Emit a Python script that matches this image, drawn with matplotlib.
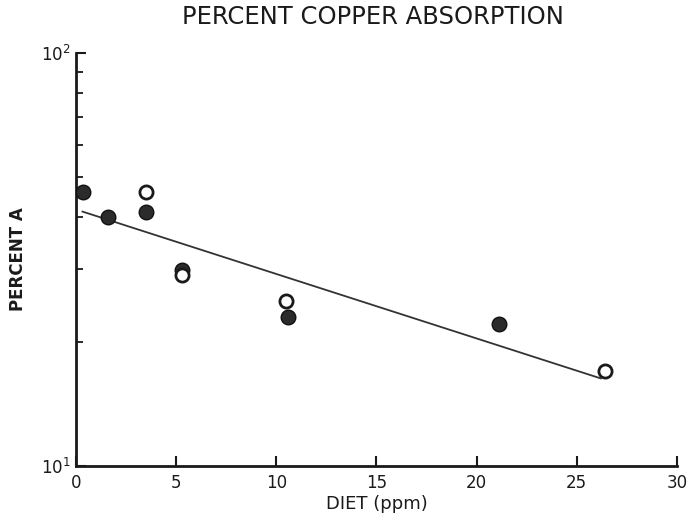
import numpy as np
import matplotlib.pyplot as plt
from matplotlib.ticker import LogLocator, NullFormatter, FixedLocator

# filled circles
filled_x = [0.35, 1.6, 3.5, 5.3, 10.6, 21.1]
filled_y = [46.1, 40.1, 41.2, 29.8, 23.0, 22.1]

# open circles
open_x = [3.5, 5.3, 10.5, 26.4]
open_y = [46.1, 29.0, 25.1, 17.0]

# regression line end points
line_x = [0.33, 26.2]
line_y = [41.3, 16.3]

x_ticks = [0, 5, 10, 15, 20, 25, 30]

fig = plt.figure(figsize=(6.9, 5.19), dpi=100)
ax = fig.add_axes([0.110, 0.102, 0.871, 0.796])

ink = "#1a1a1a"

ax.plot(line_x, line_y, color="#333333", linewidth=1.3, zorder=2)
ax.scatter(filled_x, filled_y, s=110, color="#2b2b2b", edgecolor="#111111",
           linewidth=1.0, zorder=3)
ax.scatter(open_x, open_y, s=90, facecolor="white", edgecolor=ink,
           linewidth=2.0, zorder=4)

ax.set_yscale("log")
ax.set_xlim(0, 30)
ax.set_ylim(10, 100)

ax.xaxis.set_major_locator(FixedLocator(x_ticks))
ax.yaxis.set_major_locator(FixedLocator([10, 100]))
ax.yaxis.set_minor_locator(LogLocator(base=10, subs=np.arange(2, 10)))
ax.yaxis.set_minor_formatter(NullFormatter())
ax.set_yticklabels([r"10$^{1}$", r"10$^{2}$"])

ax.tick_params(axis="both", which="major", direction="in", length=7, width=1.5,
               color=ink, labelsize=12, labelcolor=ink)
ax.tick_params(axis="y", which="minor", direction="in", length=5, width=1.3,
               color=ink)
ax.tick_params(axis="x", which="major", pad=6)

for side in ["top", "right"]:
    ax.spines[side].set_visible(False)
for side in ["left", "bottom"]:
    ax.spines[side].set_linewidth(2.0)
    ax.spines[side].set_color(ink)

ax.set_xlabel("DIET (ppm)", fontsize=13, color=ink, labelpad=2)
ax.set_ylabel("PERCENT A", fontsize=12, color=ink, fontweight="bold")
ax.yaxis.set_label_coords(-0.081, 0.5)
fig.suptitle("PERCENT COPPER ABSORPTION", fontsize=17.5, color=ink, x=0.54, y=0.99)

fig.savefig("out.png", dpi=100)
